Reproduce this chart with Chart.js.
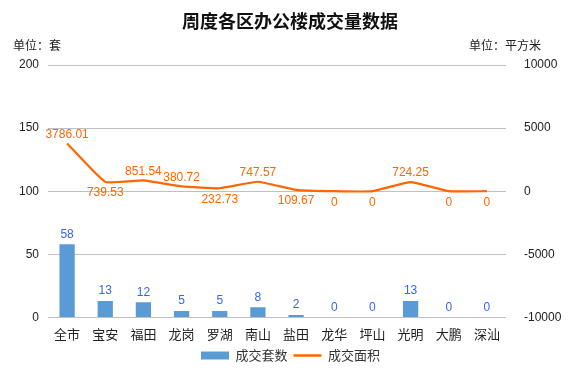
<!DOCTYPE html>
<html lang="zh">
<head>
<meta charset="UTF-8">
<title>周度各区办公楼成交量数据</title>
<script src="https://cdn.jsdelivr.net/npm/chart.js"></script>
<style>
  html, body { margin: 0; padding: 0; background: #fff; }
  #wrap { width: 581px; height: 372px; position: relative; }
</style>
</head>
<body>
<div id="wrap"><canvas id="myChart" width="581" height="372"></canvas></div>
<script>
  // districts
  const districts = ['全市', '宝安', '福田', '龙岗', '罗湖', '南山', '盐田', '龙华', '坪山', '光明', '大鹏', '深汕'];
  // 成交套数 (left axis)
  const units = [58, 13, 12, 5, 5, 8, 2, 0, 0, 13, 0, 0];
  // 成交面积 (right axis)
  const area = [3786.01, 739.53, 851.54, 380.72, 232.73, 747.57, 109.67, 0, 0, 724.25, 0, 0];
  const leftTicks = [0, 50, 100, 150, 200];
  const rightTicks = [-10000, -5000, 0, 5000, 10000];
  // where each area label sits relative to its point
  const areaLabelSide = ['up', 'down', 'up', 'up', 'down', 'up', 'down', 'down', 'down', 'up', 'down', 'down'];

  const blue = '#5b9bd5';
  const orange = '#ff6600';

  // title, unit captions and value labels
  const extras = {
    id: 'extras',
    afterDatasetsDraw(chart) {
      const ctx = chart.ctx;
      ctx.save();
      ctx.fillStyle = '#111';
      ctx.textAlign = 'center';
      ctx.textBaseline = 'middle';
      ctx.font = 'bold 18px "Noto Sans CJK SC"';
      ctx.fillText('周度各区办公楼成交量数据', 290, 21);
      ctx.fillStyle = '#222';
      ctx.font = '12px "Noto Sans CJK SC"';
      ctx.textAlign = 'left';
      ctx.fillText('单位：套', 13, 45);
      ctx.fillText('单位：平方米', 469, 45);

      ctx.font = '12px "Liberation Sans"';
      ctx.textAlign = 'center';
      ctx.fillStyle = '#3366ee';
      chart.getDatasetMeta(0).data.forEach((bar, i) => {
        ctx.fillText(String(units[i]), bar.x, bar.y - 10);
      });
      ctx.fillStyle = orange;
      chart.getDatasetMeta(1).data.forEach((pt, i) => {
        const dy = areaLabelSide[i] === 'up' ? -9 : 11;
        ctx.fillText(String(area[i]), pt.x, pt.y + dy);
      });
      ctx.restore();
    }
  };

  const config = {
    data: {
      labels: districts,
      datasets: [{
        type: 'bar',
        label: '成交套数',
        data: units,
        yAxisID: 'y',
        backgroundColor: blue,
        barPercentage: 0.4,
        categoryPercentage: 1,
        order: 2
      }, {
        type: 'line',
        label: '成交面积',
        data: area,
        yAxisID: 'y1',
        borderColor: orange,
        backgroundColor: orange,
        borderWidth: 2.2,
        pointRadius: 0,
        tension: 0.12,
        order: 1
      }]
    },
    options: {
      responsive: false,
      animation: false,
      layout: { padding: { top: 65, bottom: 0 } },
      plugins: {
        tooltip: { enabled: false },
        legend: {
          position: 'bottom',
          labels: {
            color: '#333',
            font: { size: 13, family: '"Noto Sans CJK SC"' },
            usePointStyle: true,
            pointStyleWidth: 28,
            boxHeight: 8,
            padding: 6,
            sort: (a, b) => a.datasetIndex - b.datasetIndex,
            generateLabels(chart) {
              const items = Chart.defaults.plugins.legend.labels.generateLabels(chart);
              items.forEach(it => {
                if (it.datasetIndex === 0) {
                  it.pointStyle = 'rect';
                  it.fillStyle = blue;
                  it.lineWidth = 0;
                } else {
                  it.pointStyle = 'line';
                  it.strokeStyle = orange;
                  it.lineWidth = 2.5;
                }
              });
              return items;
            }
          }
        }
      },
      scales: {
        x: {
          grid: { display: false },
          border: { display: false },
          ticks: { color: '#222', font: { size: 13, family: '"Noto Sans CJK SC"' }, padding: 1 }
        },
        y: {
          position: 'left',
          min: 0, max: 200,
          afterBuildTicks(scale) { scale.ticks = leftTicks.map(v => ({ value: v })); },
          afterFit(scale) { scale.width = 48; },
          grid: { color: '#c0c0c0', drawTicks: false },
          border: { display: false },
          ticks: { color: '#222', font: { size: 12, family: '"Liberation Sans"' }, padding: 9 }
        },
        y1: {
          position: 'right',
          min: -10000, max: 10000,
          afterBuildTicks(scale) { scale.ticks = rightTicks.map(v => ({ value: v })); },
          afterFit(scale) { scale.width = 75; },
          grid: { display: false },
          border: { display: false },
          ticks: {
            color: '#222', font: { size: 12, family: '"Liberation Sans"' }, padding: 10,
            callback: v => String(v)
          }
        }
      }
    },
    plugins: [extras]
  };

  const myChart = new Chart(document.getElementById('myChart'), config);
</script>
</body>
</html>
